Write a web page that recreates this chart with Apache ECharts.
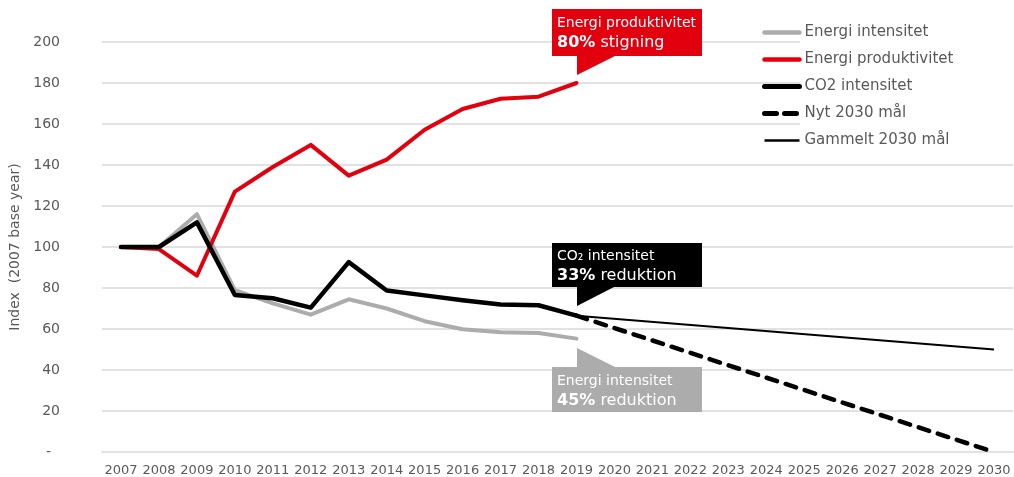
<!DOCTYPE html>
<html>
<head>
<meta charset="utf-8">
<script src="https://cdn.jsdelivr.net/npm/echarts@6/dist/echarts.min.js"></script>
<style>
    html, body { margin: 0; padding: 0; background: #fff; }
    #energy_chart { width: 1014px; height: 477px; }
</style>
</head>
<body>
<div id="energy_chart"></div>
<script>
var years = ['2007', '2008', '2009', '2010', '2011', '2012', '2013', '2014', '2015', '2016', '2017', '2018',
    '2019', '2020', '2021', '2022', '2023', '2024', '2025', '2026', '2027', '2028', '2029', '2030'];

var energiIntensitet = [100, 100, 116, 79, 72.5, 67, 74.5, 70, 63.8, 59.9, 58.4, 58, 55.3];
var energiProduktivitet = [100, 99, 86, 127, 139, 149.8, 134.8, 142.6, 157.2, 167.3, 172.3, 173.3, 180];
var co2Intensitet = [100, 100, 112, 76.6, 75, 70.4, 92.6, 78.8, 76.4, 74, 72, 71.6, 66.5];
// maal: kun start (2019) og slut (2030), resten er tomme
var nytMaal = [null, null, null, null, null, null, null, null, null, null, null, null,
    66.5, null, null, null, null, null, null, null, null, null, null, 0];
var gammeltMaal = [null, null, null, null, null, null, null, null, null, null, null, null,
    66.5, null, null, null, null, null, null, null, null, null, null, 50];

var yTicks = { min: 0, max: 200, interval: 20 };

var chartDom = document.getElementById('energy_chart');
var myChart = echarts.init(chartDom);
var option;

var fontFam = 'DejaVu Sans';
var txtGray = '#595959';
var gridGray = '#e2e2e2';
var boxRich = {
    r: { fontSize: 16, fill: '#fff', fontFamily: fontFam },
    b: { fontSize: 16, fontWeight: 'bold', fill: '#fff', fontFamily: fontFam }
};

option = {
    animation: false,
    textStyle: { fontFamily: fontFam },
    grid: {
        left: 102,
        right: 1,
        top: 42,
        bottom: 24
    },
    legend: {
        orient: 'vertical',
        left: 757,
        top: 20,
        itemWidth: 35,
        itemHeight: 14,
        itemGap: 12,
        z: 10,
        itemStyle: { opacity: 0 },
        textStyle: {
            color: txtGray,
            fontFamily: fontFam,
            fontSize: 15
        },
        data: [
            { name: 'Energi intensitet', lineStyle: { width: 4.5, cap: 'round' } },
            { name: 'Energi produktivitet', lineStyle: { width: 4.5, cap: 'round' } },
            { name: 'CO2 intensitet', lineStyle: { width: 5, cap: 'round' } },
            { name: 'Nyt 2030 mål', lineStyle: { width: 5, type: [12, 8], cap: 'round' } },
            { name: 'Gammelt 2030 mål', lineStyle: { width: 2.5 } }
        ]
    },
    xAxis: {
        type: 'category',
        data: years,
        boundaryGap: true,
        axisLine: { lineStyle: { color: gridGray, width: 2 } },
        axisTick: { show: false },
        axisLabel: {
            interval: 0,
            color: txtGray,
            fontSize: 13,
            fontFamily: fontFam,
            margin: 12
        }
    },
    yAxis: {
        type: 'value',
        min: yTicks.min,
        max: yTicks.max,
        interval: yTicks.interval,
        name: 'Index  (2007 base year)',
        nameLocation: 'middle',
        nameGap: 76,
        nameTextStyle: {
            color: txtGray,
            fontSize: 14,
            fontFamily: fontFam
        },
        axisLine: { show: false },
        axisTick: { show: false },
        axisLabel: {
            color: txtGray,
            fontSize: 14,
            fontFamily: fontFam,
            margin: 42,
            formatter: function (v) {
                return v === 0 ? '-  ' : v;
            }
        },
        splitLine: {
            lineStyle: { color: gridGray, width: 2 }
        }
    },
    graphic: [
        {
            // hvid baggrund bag legend
            type: 'rect',
            z: 5,
            shape: { x: 800, y: 0, width: 214, height: 160 },
            style: { fill: '#fff' }
        },
        // roed boks
        {
            type: 'polygon',
            z: 20,
            shape: { points: [[552, 9], [702, 9], [702, 56], [615, 56], [577, 75], [577, 56], [552, 56]] },
            style: { fill: '#e2000f' }
        },
        {
            type: 'text',
            z: 21,
            left: 557,
            top: 13,
            style: {
                text: 'Energi produktivitet\n{b|80%}{r| stigning}',
                fill: '#fff',
                font: '14px "DejaVu Sans"',
                lineHeight: 20,
                rich: boxRich
            }
        },
        // sort boks
        {
            type: 'polygon',
            z: 20,
            shape: { points: [[552, 243], [702, 243], [702, 287], [614, 287], [577, 306], [577, 287], [552, 287]] },
            style: { fill: '#000' }
        },
        {
            type: 'text',
            z: 21,
            left: 557,
            top: 246,
            style: {
                text: 'CO₂ intensitet\n{b|33%}{r| reduktion}',
                fill: '#fff',
                font: '14px "DejaVu Sans"',
                lineHeight: 20,
                rich: boxRich
            }
        },
        // graa boks
        {
            type: 'polygon',
            z: 20,
            shape: { points: [[577, 348], [615, 367], [702, 367], [702, 412], [552, 412], [552, 367], [577, 367]] },
            style: { fill: '#acacac' }
        },
        {
            type: 'text',
            z: 21,
            left: 557,
            top: 371,
            style: {
                text: 'Energi intensitet\n{b|45%}{r| reduktion}',
                fill: '#fff',
                font: '14px "DejaVu Sans"',
                lineHeight: 20,
                rich: boxRich
            }
        }
    ],
    series: [
        {
            name: 'Energi intensitet',
            type: 'line',
            data: energiIntensitet,
            symbol: 'none',
            itemStyle: { color: '#acacac' },
            lineStyle: { color: '#acacac', width: 4, cap: 'round', join: 'round' }
        },
        {
            name: 'Energi produktivitet',
            type: 'line',
            data: energiProduktivitet,
            symbol: 'none',
            itemStyle: { color: '#e2000f' },
            lineStyle: { color: '#e2000f', width: 4, cap: 'round', join: 'round' }
        },
        {
            name: 'CO2 intensitet',
            type: 'line',
            data: co2Intensitet,
            symbol: 'none',
            itemStyle: { color: '#000' },
            lineStyle: { color: '#000', width: 4.5, cap: 'round', join: 'round' }
        },
        {
            name: 'Nyt 2030 mål',
            type: 'line',
            data: nytMaal,
            connectNulls: true,
            symbol: 'none',
            itemStyle: { color: '#000' },
            lineStyle: { color: '#000', width: 4.5, type: [11, 9], cap: 'round' }
        },
        {
            name: 'Gammelt 2030 mål',
            type: 'line',
            data: gammeltMaal,
            connectNulls: true,
            symbol: 'none',
            itemStyle: { color: '#000' },
            lineStyle: { color: '#000', width: 2 }
        }
    ]
};

option && myChart.setOption(option);
</script>
</body>
</html>
